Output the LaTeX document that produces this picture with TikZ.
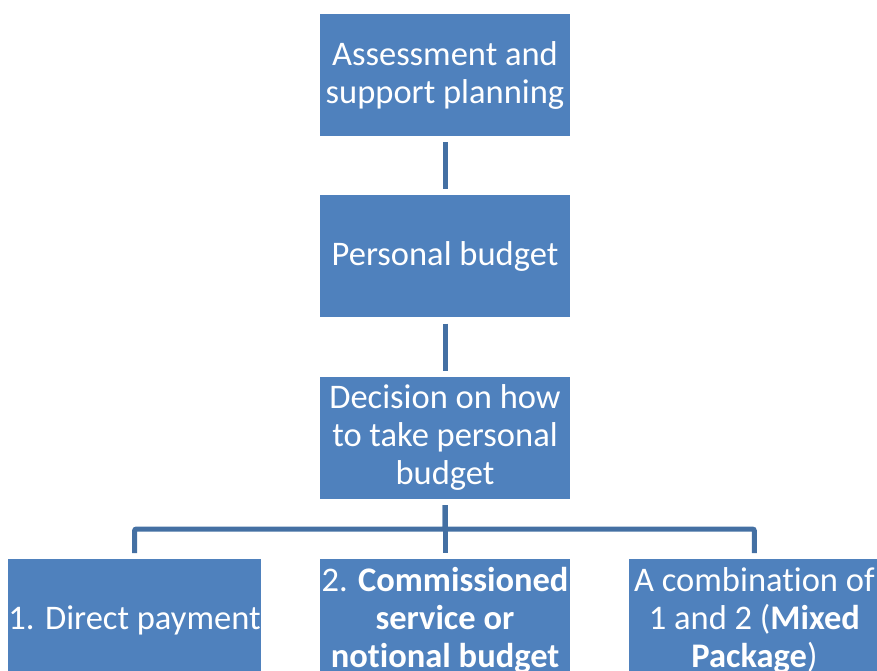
\documentclass[tikz,border=0pt]{standalone}
\usepackage{fontspec}
\setmainfont{Carlito}[Ligatures=NoCommon]
\usetikzlibrary{positioning}
\definecolor{boxblue}{RGB}{79,129,189}
\definecolor{linkblue}{RGB}{68,112,163}
\tikzset{
  box/.style  = {rectangle, fill = boxblue, text = white,
                 minimum width = 250pt, minimum height = 122pt,
                 inner sep = 0pt, align = center,
                 font = \fontsize{34.5}{38}\selectfont},
  link/.style = {draw = linkblue, line width = 5pt,
                 shorten < = 6pt, shorten > = 6pt}
}

\begin{document}
\begin{tikzpicture}[x=1pt, y=-1pt]
\clip (0,0) rectangle (877,671);

% --- Kette oben --------------------------------------------------
\node[box] (assess) at (445,75) {Assessment and\\support planning};
\node[box, below=59pt of assess] (budget) {Personal budget};
\node[box, below=59pt of budget] (decide) {Decision on how\\to take personal\\budget};

% --- Optionen ----------------------------------------------------
\node[box, below=60pt of decide] (commission)
  {2. \textbf{Commissioned}\\\textbf{service or}\\\textbf{notional budget}};
\node[box, left=59pt of commission] (direct) {1. Direct payment};
\node[box, right=59pt of commission] (mixed)
  {A combination of\\1 and 2 (\textbf{Mixed}\\\textbf{Package})};

% --- Verbindungen ------------------------------------------------
\draw[link] (assess) -- (budget);
\draw[link] (budget) -- (decide);
\draw[link] (decide) -- (commission);
\draw[link, rounded corners=2pt] (decide.south) -- ++(0,30) -| (direct.north);
\draw[link, rounded corners=2pt] (decide.south) -- ++(0,30) -| (mixed.north);
\end{tikzpicture}
\end{document}
